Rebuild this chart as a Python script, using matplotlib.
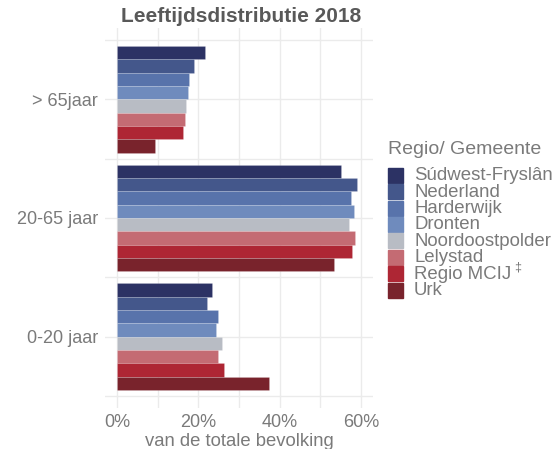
import numpy as np
import matplotlib.pyplot as plt
from matplotlib.patches import Rectangle

plt.rcParams['font.family'] = ['Liberation Sans', 'DejaVu Sans']

# Daten
leeftijd = ["0-20 jaar", "20-65 jaar", "> 65jaar"]
regios = ["Súdwest-Fryslân", "Nederland", "Harderwijk", "Dronten",
          "Noordoostpolder", "Lelystad", "Regio MCIJ", "Urk"]
kleuren = ["#2c3264", "#44578b", "#5873ab", "#6f8bbd",
           "#b8bcc4", "#c46b73", "#ae2634", "#79232c"]

# Anteil in % je Regio: [0-20, 20-65, >65]
sudwest = [23.4, 55.0, 21.7]
nederland = [22.1, 59.0, 18.9]
harderwijk = [24.9, 57.5, 17.8]
dronten = [24.4, 58.4, 17.4]
noordoostpolder = [25.7, 57.2, 17.0]
lelystad = [24.9, 58.6, 16.8]
regio_mcij = [26.3, 57.8, 16.1]
urk = [37.3, 53.5, 9.2]
werte = [sudwest, nederland, harderwijk, dronten,
         noordoostpolder, lelystad, regio_mcij, urk]

W, H = 558, 449
fig = plt.figure(figsize=(W / 100, H / 100), dpi=100)
ax = fig.add_axes([105 / W, 1 - 408 / H, (373 - 105) / W, (408 - 28) / H])

grau = "#7a7a7a"
y = np.arange(len(leeftijd))
bw = 0.9 / len(regios)
for i, (naam, vals) in enumerate(zip(regios, werte)):
    ax.barh(y + 0.45 - (i + 0.5) * bw, vals, height=bw, color=kleuren[i],
            edgecolor=(1, 1, 1, 0.2), linewidth=0.5, zorder=2)

ax.set_xlim(-3, 63)
ax.set_ylim(-0.6, 2.6)
ax.set_xticks([0, 20, 40, 60])
ax.set_xticklabels(["0%", "20%", "40%", "60%"])
ax.set_xticks([10, 30, 50], minor=True)
ax.set_yticks(y)
ax.set_yticklabels(leeftijd)
ax.set_yticks([-0.5, 0.5, 1.5, 2.5], minor=True)
ax.grid(True, which="both", color="#ebebeb", linewidth=1, zorder=0)
ax.set_axisbelow(True)
for s in ax.spines.values():
    s.set_visible(False)
ax.tick_params(which="both", length=0, labelsize=13, labelcolor=grau)
ax.tick_params(axis="y", pad=5)
ax.tick_params(axis="x", pad=4)
ax.set_xlabel("van de totale bevolking", fontsize=13.3, color=grau, labelpad=2)

fig.text(241 / W, 1 - 17 / H, "Leeftijdsdistributie 2018", ha="center", va="center",
         fontsize=15, fontweight="bold", color="#595959")

# Legende von Hand
fig.text(388 / W, 1 - 150 / H, "Regio/ Gemeente", ha="left", va="center",
         fontsize=14, color=grau)
for i, naam in enumerate(regios):
    top = 167.7 + i * 16.4
    fig.add_artist(Rectangle((388 / W, 1 - (top + 15) / H), 14.5 / W, 15 / H,
                             transform=fig.transFigure, color=kleuren[i]))
    fig.text(414 / W, 1 - (top + 8) / H, naam, ha="left", va="center",
             fontsize=13.4, color=grau)
fig.text(518 / W, 1 - 268 / H, "‡", ha="center", va="center", fontsize=9, color=grau)

fig.savefig("out.png", dpi=100)
